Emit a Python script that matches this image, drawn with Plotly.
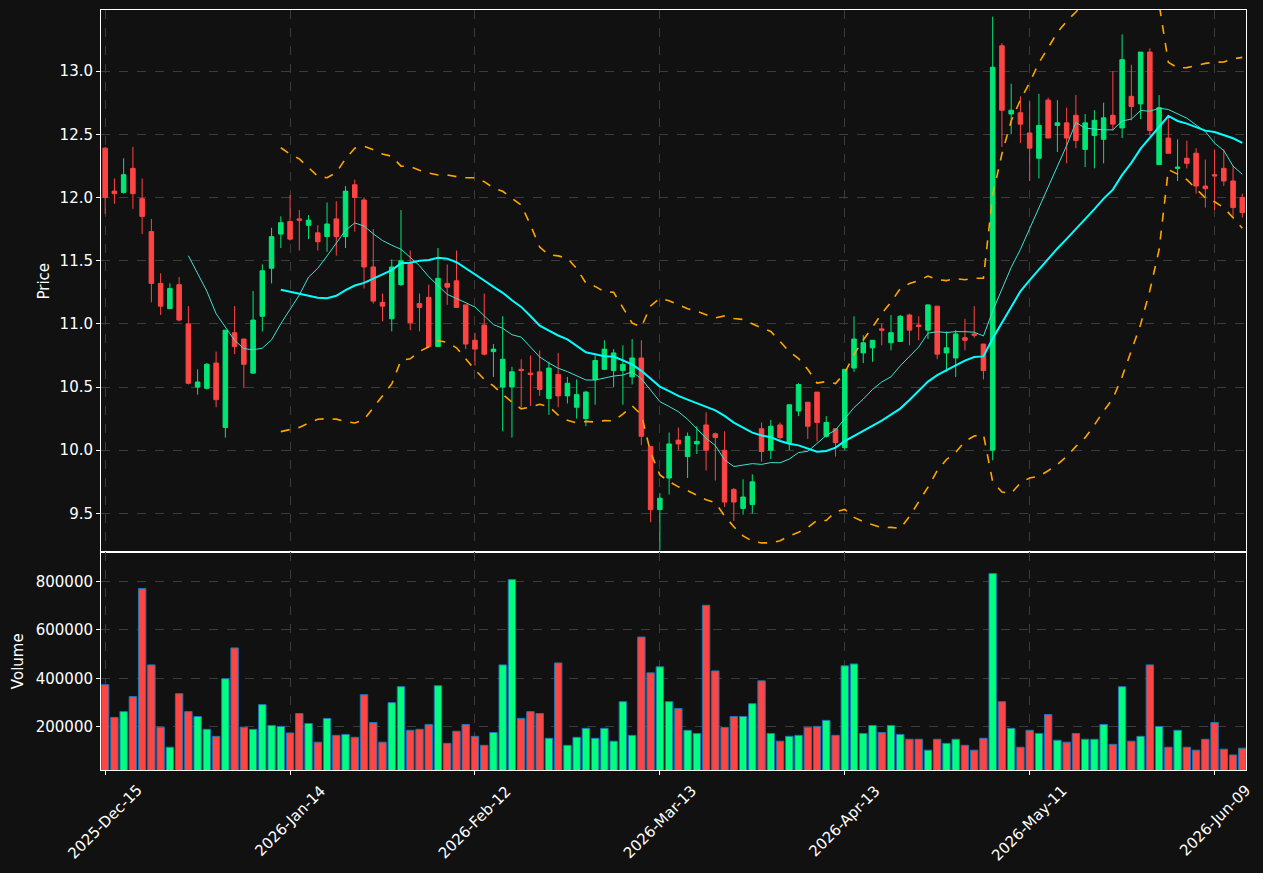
import pandas as pd
import plotly.graph_objects as go

# ---- data ----
holidays = ["2025-12-25", "2026-01-01", "2026-01-19", "2026-02-16", "2026-04-03", "2026-05-25"]
dates = pd.bdate_range("2025-12-15", periods=124, freq="C", holidays=holidays)
date_labels = [d.strftime("%Y-%m-%d") for d in dates]

opens = [12.39, 12.05, 12.04, 12.23, 11.99, 11.73, 11.32, 11.12, 11.31, 11.00,
         10.50, 10.49, 10.69, 10.18, 10.93, 10.88, 10.61, 11.06, 11.44, 11.71,
         11.81, 11.83, 11.78, 11.72, 11.69, 11.83, 11.69, 12.10, 11.98, 11.45,
         11.17, 11.04, 11.31, 11.48, 11.16, 11.21, 10.82, 11.32, 11.34, 11.15,
         10.87, 10.99, 10.78, 10.50, 10.50, 10.64, 10.61, 10.62, 10.41, 10.60,
         10.43, 10.34, 10.25, 10.56, 10.64, 10.63, 10.63, 10.58, 10.73, 10.03,
         9.53, 9.78, 10.08, 9.95, 10.05, 10.20, 10.13, 10.00, 9.69, 9.54,
         9.57, 10.17, 10.00, 10.20, 10.06, 10.31, 10.38, 10.46, 10.11, 10.17,
         10.02, 10.65, 10.77, 10.81, 10.96, 10.85, 10.86, 11.07, 10.99, 10.95,
         11.14, 10.77, 10.73, 10.89, 10.92, 10.84, 10.00, 13.20, 12.66, 12.67,
         12.51, 12.31, 12.77, 12.57, 12.59, 12.65, 12.38, 12.49, 12.46, 12.65,
         12.55, 12.80, 12.74, 13.15, 12.26, 12.47, 12.23, 12.31, 12.35, 12.09,
         12.18, 12.23, 12.13, 12.00]
highs = [12.40, 12.15, 12.31, 12.40, 12.15, 11.83, 11.40, 11.32, 11.37, 11.14,
         10.64, 10.69, 10.78, 10.95, 11.14, 10.88, 11.26, 11.47, 11.76, 11.85,
         12.02, 11.90, 11.86, 11.78, 11.96, 11.97, 12.09, 12.14, 12.00, 11.75,
         11.24, 11.51, 11.90, 11.58, 11.24, 11.31, 11.60, 11.47, 11.58, 11.15,
         10.93, 11.24, 10.84, 11.06, 10.66, 10.72, 10.75, 10.79, 10.70, 10.77,
         10.58, 10.56, 10.47, 10.75, 10.87, 10.80, 10.83, 10.88, 10.87, 10.03,
         9.66, 10.14, 10.18, 10.14, 10.19, 10.30, 10.14, 10.15, 9.70, 9.77,
         9.81, 10.22, 10.24, 10.22, 10.36, 10.53, 10.38, 10.46, 10.27, 10.17,
         10.64, 11.06, 10.91, 10.87, 11.00, 11.07, 11.07, 11.08, 11.06, 11.15,
         11.14, 10.94, 10.95, 11.04, 11.14, 10.84, 13.43, 13.22, 12.90, 12.80,
         12.76, 12.82, 12.79, 12.77, 12.71, 12.81, 12.66, 12.69, 12.75, 13.00,
         13.29, 13.05, 13.15, 13.18, 12.81, 12.65, 12.46, 12.45, 12.39, 12.30,
         12.38, 12.38, 12.25, 12.03]
lows = [11.87, 11.95, 12.03, 11.91, 11.71, 11.17, 11.07, 11.12, 11.02, 10.52,
        10.44, 10.48, 10.34, 10.10, 10.76, 10.49, 10.61, 10.94, 11.32, 11.60,
        11.66, 11.58, 11.67, 11.58, 11.57, 11.54, 11.60, 11.73, 11.28, 11.16,
        11.02, 10.94, 11.30, 10.95, 10.94, 10.81, 10.82, 11.15, 11.13, 10.80,
        10.67, 10.75, 10.58, 10.15, 10.10, 10.34, 10.35, 10.43, 10.28, 10.34,
        10.37, 10.25, 10.19, 10.36, 10.64, 10.50, 10.36, 10.52, 10.04, 9.43,
        9.21, 9.65, 10.00, 9.78, 9.97, 9.84, 9.76, 9.55, 9.44, 9.49,
        9.50, 9.91, 9.93, 10.08, 10.00, 10.27, 10.09, 10.07, 10.10, 9.95,
        10.00, 10.62, 10.69, 10.70, 10.83, 10.79, 10.86, 10.83, 10.87, 10.88,
        10.72, 10.62, 10.58, 10.79, 10.89, 10.56, 9.92, 12.40, 12.50, 12.43,
        12.13, 12.15, 12.47, 12.36, 12.27, 12.39, 12.24, 12.23, 12.27, 12.53,
        12.47, 12.61, 12.62, 12.49, 12.26, 12.35, 12.13, 12.23, 12.03, 11.92,
        11.90, 12.09, 11.84, 11.84]
closes = [12.00, 12.03, 12.18, 12.03, 11.85, 11.32, 11.14, 11.28, 11.03, 10.53,
          10.54, 10.68, 10.40, 10.95, 10.82, 10.68, 11.03, 11.42, 11.69, 11.80,
          11.67, 11.82, 11.82, 11.65, 11.79, 11.69, 12.05, 12.00, 11.45, 11.18,
          11.14, 11.45, 11.50, 11.01, 11.13, 10.82, 11.36, 11.29, 11.13, 10.84,
          10.80, 10.76, 10.80, 10.72, 10.62, 10.63, 10.60, 10.48, 10.65, 10.43,
          10.53, 10.44, 10.46, 10.71, 10.80, 10.77, 10.68, 10.73, 10.11, 9.53,
          9.62, 10.05, 10.05, 10.11, 10.07, 10.00, 10.10, 9.59, 9.59, 9.63,
          9.75, 9.99, 10.19, 10.10, 10.36, 10.52, 10.19, 10.22, 10.22, 10.06,
          10.64, 10.88, 10.85, 10.87, 10.95, 10.93, 11.06, 10.95, 10.98, 11.15,
          10.76, 10.81, 10.92, 10.87, 10.91, 10.63, 13.03, 12.69, 12.69, 12.58,
          12.39, 12.57, 12.47, 12.59, 12.47, 12.45, 12.59, 12.61, 12.63, 12.58,
          13.09, 12.72, 13.15, 12.53, 12.71, 12.35, 12.24, 12.27, 12.09, 12.07,
          12.17, 12.13, 11.92, 11.88]
volumes = [374000, 239000, 263000, 325000, 771000, 456000, 199000, 116000, 337000, 263000,
           243000, 190000, 161000, 399000, 526000, 199000, 190000, 292000, 206000, 202000,
           175000, 255000, 214000, 137000, 235000, 165000, 169000, 157000, 333000, 218000,
           137000, 300000, 366000, 186000, 190000, 210000, 370000, 132000, 182000, 210000,
           161000, 124000, 177000, 456000, 808000, 235000, 263000, 255000, 153000, 464000,
           124000, 157000, 194000, 153000, 194000, 141000, 304000, 165000, 571000, 423000,
           448000, 304000, 276000, 186000, 173000, 702000, 431000, 198000, 243000, 243000,
           296000, 390000, 173000, 141000, 161000, 165000, 198000, 202000, 227000, 165000,
           452000, 460000, 173000, 206000, 177000, 206000, 169000, 149000, 149000, 104000,
           149000, 132000, 149000, 124000, 104000, 153000, 833000, 304000, 194000, 116000,
           186000, 173000, 251000, 145000, 137000, 173000, 149000, 149000, 210000, 128000,
           366000, 141000, 161000, 456000, 202000, 116000, 186000, 116000, 104000, 149000,
           218000, 108000, 84000, 112000]

price_ticks = [9.5, 10.0, 10.5, 11.0, 11.5, 12.0, 12.5, 13.0]
volume_ticks = [200000, 400000, 600000, 800000]
tick_dates = date_labels[::20]
tick_texts = [d.strftime("%Y-%b-%d") for d in dates[::20]]

# ---- derived indicators ----
s = pd.Series(closes)
ma10 = s.rolling(10).mean()
ma20 = s.rolling(20).mean()
sd20 = s.rolling(20).std(ddof=0)
bb_up = ma20 + 2 * sd20
bb_lo = ma20 - 2 * sd20

UP = "#00e676"
DOWN = "#ff4444"
VUP = "#00ff7f"
BG = "#111111"
FONT = "DejaVu Sans"
FS = 15

vol_colors = [VUP if c >= o else DOWN for o, c in zip(opens, closes)]

fig = go.Figure()
fig.add_trace(go.Candlestick(
    x=date_labels, open=opens, high=highs, low=lows, close=closes,
    increasing=dict(line=dict(color=UP, width=1), fillcolor=UP),
    decreasing=dict(line=dict(color=DOWN, width=1), fillcolor=DOWN),
    whiskerwidth=0, xaxis="x", yaxis="y", showlegend=False))
fig.add_trace(go.Scatter(x=date_labels, y=ma10, mode="lines",
                         line=dict(color="#40e0d0", width=1), xaxis="x", yaxis="y", showlegend=False))
fig.add_trace(go.Scatter(x=date_labels, y=ma20, mode="lines",
                         line=dict(color="#00ffff", width=2), xaxis="x", yaxis="y", showlegend=False))
fig.add_trace(go.Scatter(x=date_labels, y=bb_up, mode="lines",
                         line=dict(color="#ffa500", width=1.6, dash="dash"), xaxis="x", yaxis="y", showlegend=False))
fig.add_trace(go.Scatter(x=date_labels, y=bb_lo, mode="lines",
                         line=dict(color="#ffa500", width=1.6, dash="dash"), xaxis="x", yaxis="y", showlegend=False))
fig.add_trace(go.Bar(x=date_labels, y=volumes, marker=dict(color=vol_colors, line=dict(color="#1f77b4", width=1)),
                     width=0.8, xaxis="x2", yaxis="y2", showlegend=False))

axis_common = dict(showline=True, mirror=True, linecolor="white", linewidth=1,
                   showgrid=True, gridcolor="#3c3c3c", griddash="dash", gridwidth=1,
                   ticks="outside", ticklen=4, tickcolor="white", zeroline=False,
                   tickfont=dict(family=FONT, size=FS, color="white"))
xr = [-0.45, 123.4]

# x tick labels: centred under each tick, rotated 45 degrees
annotations = [dict(x=d, y=0, xref="x2", yref="y2 domain", text=t, showarrow=False,
                    textangle=-45, xanchor="center", yanchor="top", yshift=-9,
                    font=dict(family=FONT, size=FS, color="white"))
               for d, t in zip(tick_dates, tick_texts)]

fig.update_layout(
    width=1263, height=873,
    paper_bgcolor=BG, plot_bgcolor=BG,
    margin=dict(l=101, r=17, t=10, b=103),
    font=dict(family=FONT, color="white", size=FS),
    showlegend=False,
    annotations=annotations,
    xaxis=dict(type="category", range=xr, domain=[0, 1], anchor="y", matches="x2",
               tickvals=tick_dates, ticktext=tick_texts, showticklabels=False,
               rangeslider=dict(visible=False), **axis_common),
    xaxis2=dict(type="category", range=xr, domain=[0, 1], anchor="y2",
                tickvals=tick_dates, ticktext=tick_texts, showticklabels=False, **axis_common),
    yaxis=dict(domain=[0.2862, 1], range=[9.191, 13.483], tickvals=price_ticks,
               tickformat=".1f", anchor="x",
               title=dict(text="Price", font=dict(family=FONT, size=FS, color="white"), standoff=6),
               **axis_common),
    yaxis2=dict(domain=[0, 0.2862], range=[22000, 920000], tickvals=volume_ticks,
                tickformat="d", anchor="x2",
                title=dict(text="Volume", font=dict(family=FONT, size=FS, color="white"), standoff=8),
                **axis_common),
)

fig.write_html("out.html")
